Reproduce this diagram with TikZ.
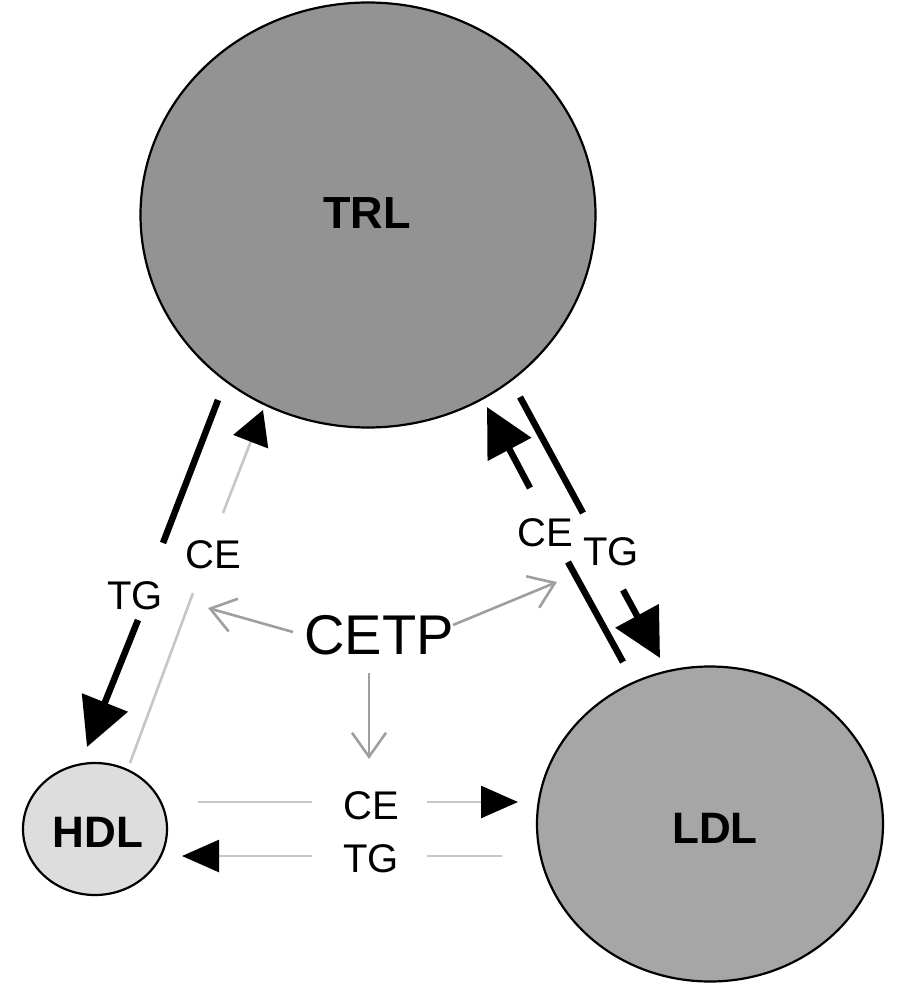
\documentclass[tikz,border=0pt]{standalone}
\usepackage{fontspec}
\setmainfont{Liberation Sans}
\usetikzlibrary{arrows.meta,shapes.geometric}
\begin{document}
\begin{tikzpicture}[x=1pt,y=-1pt,
  blob/.style={ellipse,draw=black,line width=2.2pt,inner sep=0pt},
  lbl/.style={inner sep=0pt,font=\fontsize{40}{46}\selectfont},
  thick line/.style={line width=6.5pt,black},
  thin line/.style={line width=2.6pt,gray!45},
  bighead/.style={-{Triangle[length=48pt,width=48pt]}},
  medhead/.style={-{Triangle[length=34pt,width=37pt,color=black]}},
  smallhead/.style={-{Triangle[length=37pt,width=32pt,color=black]}},
  cetparrow/.style={line width=2.6pt,gray!75,-{Straight Barb[length=24pt,width=34pt,line width=2.6pt]}}
]
\useasboundingbox (0,0) rectangle (899,984);

% main nodes
\node[blob,minimum width=455pt,minimum height=425pt,fill={rgb,255:red,147;green,147;blue,147}] (TRL) at (368,215) {};
\node[blob,minimum width=346pt,minimum height=315pt,fill={rgb,255:red,166;green,166;blue,166}] (LDL) at (710,824) {};
\node[blob,minimum width=144pt,minimum height=132pt,fill={rgb,255:red,221;green,221;blue,221}] (HDL) at (95,829) {};
\node[inner sep=0pt,font=\fontsize{45}{50}\selectfont\bfseries] (TRLt) at (367,213) {TRL};
\node[inner sep=0pt,font=\fontsize{44}{50}\selectfont\bfseries] (LDLt) at (715,828) {LDL};
\node[inner sep=0pt,font=\fontsize{44}{50}\selectfont\bfseries] (HDLt) at (98,832) {HDL};

% labels
\node[inner sep=0pt,font=\fontsize{56}{62}\selectfont] (CETP) at (379,635) {CETP};
\node[lbl] (ceL) at (213,555) {CE};
\node[lbl] (tgL) at (135,596) {TG};
\node[lbl] (ceR) at (545,533) {CE};
\node[lbl] (tgR) at (611,552) {TG};
\node[lbl] (ceB) at (371,806) {CE};
\node[lbl] (tgB) at (371,859) {TG};

% coordinates
\coordinate (lt1) at (218,400); \coordinate (lt2) at (163,543);
\coordinate (lt3) at (138,620); \coordinate (lt4) at (87,747);
\coordinate (lc1) at (130,763); \coordinate (lc2) at (193,593);
\coordinate (lc3) at (223,513); \coordinate (lc4) at (263,410);
\coordinate (rc1) at (623,662); \coordinate (rc2) at (568,562);
\coordinate (rc3) at (530,488); \coordinate (rc4) at (487,407);
\coordinate (rt1) at (520,397); \coordinate (rt2) at (583,513);
\coordinate (rt3) at (623,590); \coordinate (rt4) at (660,658);
\coordinate (bc1) at (198,802); \coordinate (bc2) at (312,802);
\coordinate (bc3) at (427,802); \coordinate (bc4) at (518,802);
\coordinate (bt1) at (502,856); \coordinate (bt2) at (427,856);
\coordinate (bt3) at (312,856); \coordinate (bt4) at (182,856);
\coordinate (pl1) at (293,632); \coordinate (pl2) at (208,608);
\coordinate (pr1) at (453,625); \coordinate (pr2) at (557,582);
\coordinate (pd1) at (369,673); \coordinate (pd2) at (369,759);

% left TG (TRL -> HDL)
\draw[thick line] (lt1) -- (lt2);
\draw[thick line,bighead] (lt3) -- (lt4);
% left CE (HDL -> TRL)
\draw[thin line] (lc1) -- (lc2);
\draw[thin line,medhead] (lc3) -- (lc4);
% right CE (LDL -> TRL)
\draw[thick line] (rc1) -- (rc2);
\draw[thick line,bighead] (rc3) -- (rc4);
% right TG (TRL -> LDL)
\draw[thick line] (rt1) -- (rt2);
\draw[thick line,bighead] (rt3) -- (rt4);
% bottom CE (HDL -> LDL)
\draw[thin line] (bc1) -- (bc2);
\draw[thin line,smallhead] (bc3) -- (bc4);
% bottom TG (LDL -> HDL)
\draw[thin line] (bt1) -- (bt2);
\draw[thin line,smallhead] (bt3) -- (bt4);
% CETP arrows
\draw[cetparrow] (pl1) -- (pl2);
\draw[cetparrow] (pr1) -- (pr2);
\draw[cetparrow] (pd1) -- (pd2);
\end{tikzpicture}
\end{document}
